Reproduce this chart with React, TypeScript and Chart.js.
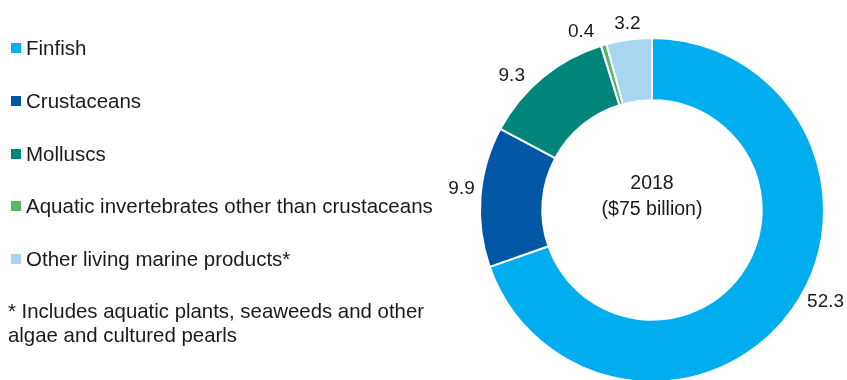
import React, { useEffect, useRef } from "react";
import { Chart, registerables } from "chart.js";

Chart.register(...registerables);

const categories = [
  "Finfish",
  "Crustaceans",
  "Molluscs",
  "Aquatic invertebrates other than crustaceans",
  "Other living marine products*",
];
const values = [52.3, 9.9, 9.3, 0.4, 3.2];
const valueLabels = ["52.3", "9.9", "9.3", "0.4", "3.2"];
const colors = ["#00aeef", "#0057a6", "#00857a", "#5bb56a", "#a6d6f2"];
const centerLines = ["2018", "($75 billion)"];
const footnoteLines = [
  "* Includes aquatic plants, seaweeds and other",
  "algae and cultured pearls",
];

// styling: nudges of value labels from their anchor outside the ring
const labelNudges: [number, number][] = [
  [17, -21],
  [1, -8],
  [-18, 12],
  [-17, 4],
  [1, 2],
];
const legendCapCenters = [48, 101, 154, 206, 259];
const footnoteCapCenters = [312, 336];

const FONT = '"Liberation Sans", Arial, Helvetica, sans-serif';
const TEXT = "#1a1a1a";

const labelPlugin = {
  id: "valueLabels",
  afterDraw(chart: any) {
    const ctx = chart.ctx;
    const meta = chart.getDatasetMeta(0);
    ctx.save();
    ctx.fillStyle = TEXT;
    ctx.font = `19px ${FONT}`;
    ctx.textAlign = "center";
    ctx.textBaseline = "alphabetic";
    meta.data.forEach((arc: any, i: number) => {
      const { x, y, startAngle, endAngle, outerRadius } = arc.getProps(
        ["x", "y", "startAngle", "endAngle", "outerRadius"],
        true
      );
      const mid = (startAngle + endAngle) / 2;
      const d = outerRadius + 20;
      const ax = x + Math.cos(mid) * d + labelNudges[i][0];
      const ay = y + Math.sin(mid) * d + labelNudges[i][1];
      ctx.fillText(valueLabels[i], ax, ay + 6.8);
    });
    // center text
    const a0 = meta.data[0];
    const cx = a0.x;
    const cy = a0.y;
    ctx.font = `19.5px ${FONT}`;
    ctx.fillText(centerLines[0], cx, cy - 28 + 7);
    ctx.fillText(centerLines[1], cx, cy - 2.5 + 7);
    ctx.restore();
  },
};

export default function App() {
  const ref = useRef<HTMLCanvasElement | null>(null);

  useEffect(() => {
    if (!ref.current) return;
    const chart = new Chart(ref.current, {
      type: "doughnut",
      data: {
        labels: categories,
        datasets: [
          {
            data: values,
            backgroundColor: colors,
            borderColor: "#ffffff",
            borderWidth: 2,
          },
        ],
      },
      options: {
        responsive: false,
        animation: false,
        cutout: "63.8%",
        layout: { padding: { left: 479, right: 22, top: 37, bottom: 37 } },
        plugins: {
          legend: { display: false },
          tooltip: { enabled: false },
        },
      },
      plugins: [labelPlugin],
    });
    return () => chart.destroy();
  }, []);

  return (
    <div
      style={{
        position: "fixed",
        left: 0,
        top: 0,
        width: 847,
        height: 380,
        overflow: "hidden",
        background: "#ffffff",
      }}
    >
      <canvas
        ref={ref}
        width={847}
        height={420}
        style={{ position: "absolute", left: 0, top: 0, width: 847, height: 420 }}
      />
      {categories.map((c, i) => (
        <div
          key={c}
          style={{
            position: "absolute",
            left: 0,
            top: legendCapCenters[i] - 11.8,
            height: 24,
            lineHeight: "24px",
            font: `20.5px ${FONT}`,
            color: TEXT,
            whiteSpace: "nowrap",
          }}
        >
          <span
            style={{
              position: "absolute",
              left: 11,
              top: 6.6,
              width: 10,
              height: 10.5,
              background: colors[i],
            }}
          />
          <span style={{ position: "absolute", left: 26, top: 0 }}>{c}</span>
        </div>
      ))}
      {footnoteLines.map((t, i) => (
        <div
          key={t}
          style={{
            position: "absolute",
            left: 8,
            top: footnoteCapCenters[i] - 11.8,
            lineHeight: "24px",
            font: `20.4px ${FONT}`,
            color: TEXT,
            whiteSpace: "nowrap",
          }}
        >
          {t}
        </div>
      ))}
    </div>
  );
}
